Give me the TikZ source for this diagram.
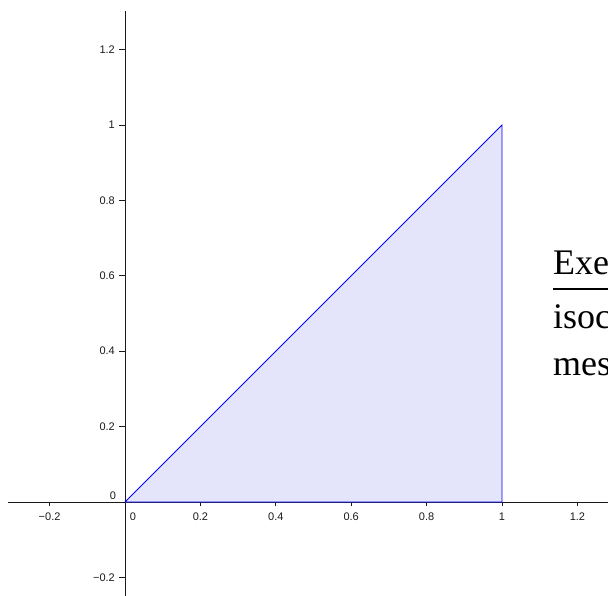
\documentclass[tikz,border=0pt]{standalone}
\usepackage{fontspec}
\setmainfont{Liberation Serif}
\setsansfont{Liberation Sans}
\definecolor{triFill}{HTML}{E4E4FA}
\definecolor{axisGray}{HTML}{1A1A1A}
\begin{document}
\begin{tikzpicture}[x=1pt,y=-1pt,
  axisline/.style={line width=0.9pt,draw=axisGray},
  tickmark/.style={line width=0.9pt,draw=axisGray},
  ticklbl/.style={font=\sffamily\fontsize{11}{13}\selectfont,inner sep=0pt,text=axisGray},
  bigtxt/.style={font=\rmfamily\fontsize{36}{40}\selectfont,inner sep=0pt,anchor=base west},
  tri/.style={fill=triFill,draw=blue,line width=0.8pt,line join=miter}]
\useasboundingbox (0,0) rectangle (608,596);
\clip (0,0) rectangle (608,596);
% axes
\coordinate (xl) at (8,502);
\coordinate (xr) at (608,502);
\coordinate (yt) at (125,11);
\coordinate (yb) at (125,596);
\draw[axisline] (xl) -- (xr);
\draw[axisline] (yt) -- (yb);
% x ticks
\foreach \v/\lab/\nm in {-0.2/−0.2/xm2,0.2/0.2/x2,0.4/0.4/x4,0.6/0.6/x6,0.8/0.8/x8,1/1/x10,1.2/1.2/x12}{
  \coordinate (t\nm) at ({125+377*\v},502);
  \coordinate (u\nm) at ({125+377*\v},506);
  \draw[tickmark] (t\nm) -- (u\nm);
  \node[ticklbl] (l\nm) at ({125+377*\v},517) {\lab};
}
% y ticks
\foreach \v/\lab/\nm in {-0.2/−0.2/ym2,0.2/0.2/y2,0.4/0.4/y4,0.6/0.6/y6,0.8/0.8/y8,1/1/y10,1.2/1.2/y12}{
  \coordinate (t\nm) at (125,{502-377*\v});
  \coordinate (u\nm) at (119,{502-377*\v});
  \draw[tickmark] (t\nm) -- (u\nm);
  \node[ticklbl,anchor=east] (l\nm) at (115,{502-377*\v}) {\lab};
}
\node[ticklbl] (x0) at (133,517) {0};
\node[ticklbl] (y0) at (113,496) {0};
% triangle
\coordinate (O) at (125,502);
\coordinate (A) at (502,502);
\coordinate (B) at (502,125);
\filldraw[tri] (O) -- (A) -- (B) -- cycle;
% text
\node[bigtxt] (t1) at (553,275) {Exe};
\coordinate (ul1) at (553,289);
\coordinate (ul2) at (608,289);
\draw[line width=1.5pt] (ul1) -- (ul2);
\node[bigtxt] (t2) at (553,328) {isoc};
\node[bigtxt] (t3) at (553,375) {mes};
\end{tikzpicture}
\end{document}
